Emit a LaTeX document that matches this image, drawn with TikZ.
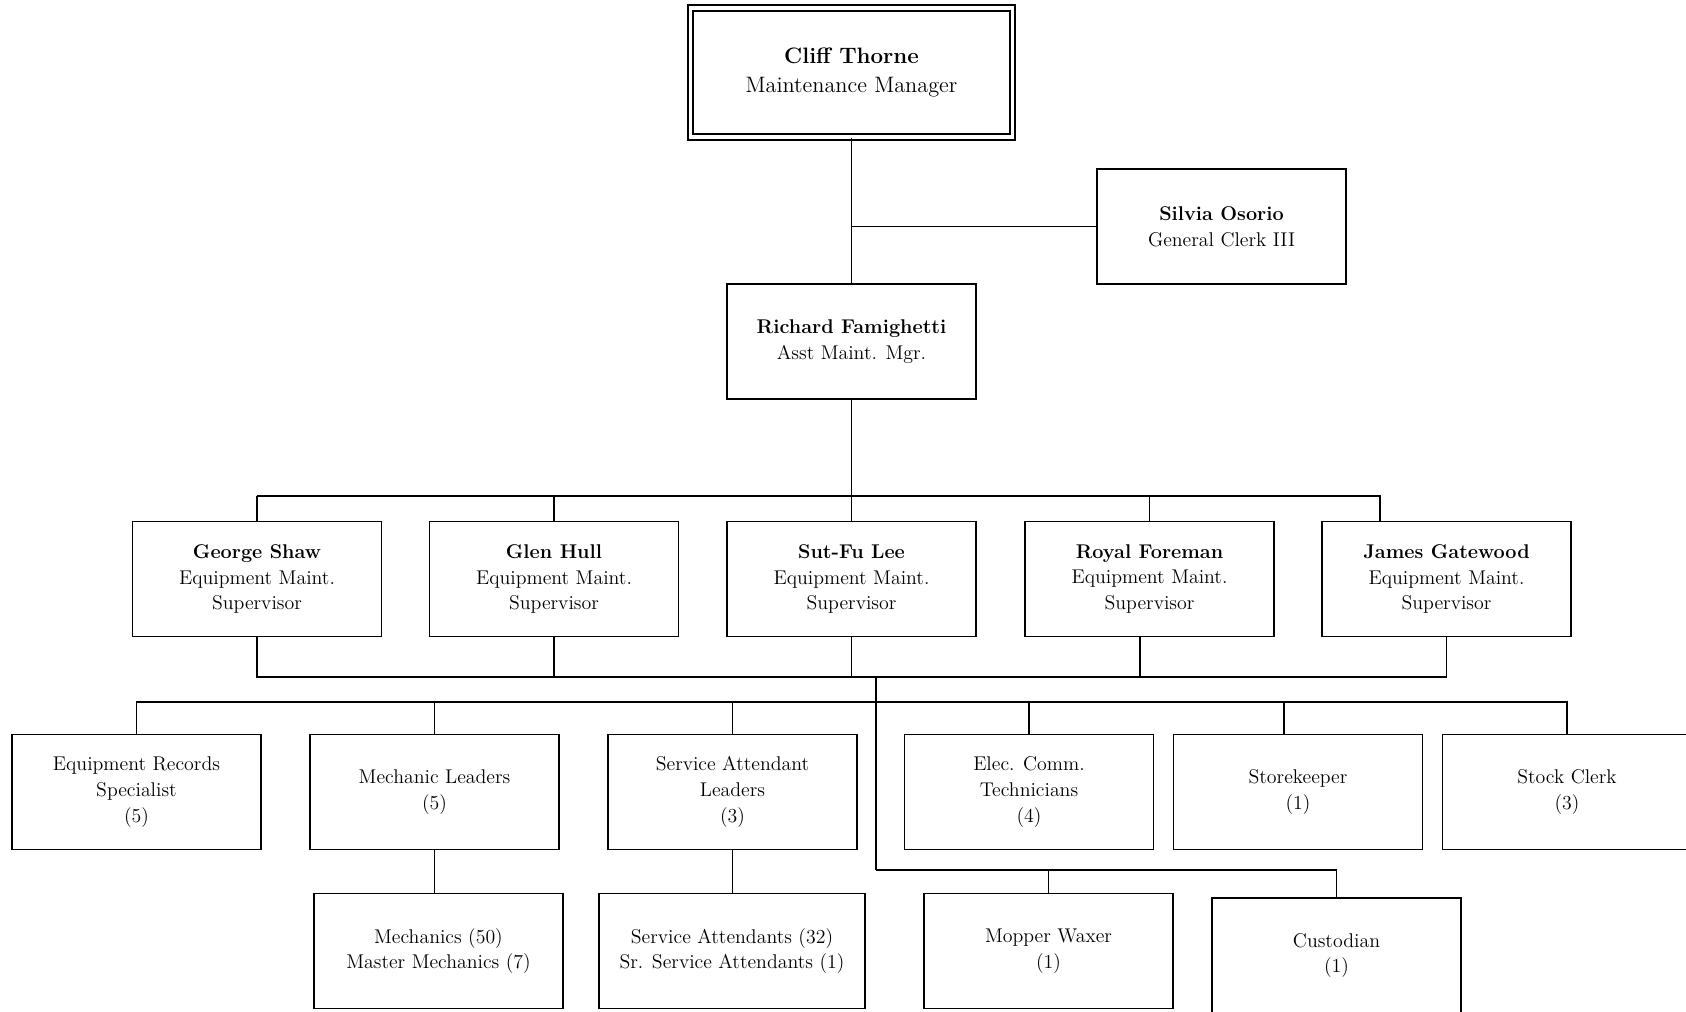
\documentclass[tikz,border=0pt]{standalone}
\usepackage{tikz}
\usetikzlibrary{calc}

\begin{document}
\begin{tikzpicture}[line width=1pt,
  box/.style={draw,minimum width=4.98cm,minimum height=2.3cm,align=center,inner sep=2pt,font=\fontsize{11.3}{14.7}\selectfont},
  topbox/.style={draw,double,double distance=2.2pt,minimum width=6.44cm,minimum height=2.58cm,align=center,font=\fontsize{12.7}{16.5}\selectfont}]
\useasboundingbox (0,0) rectangle (33.72,-20.22);
\node[topbox] (boss) at (17.03,-1.45) {\textbf{Cliff Thorne}\\Maintenance Manager};
\node[box] (clerk) at (24.43,-4.53) {\textbf{Silvia Osorio}\\General Clerk III};
\node[box] (asst) at (17.03,-6.83) {\textbf{Richard Famighetti}\\Asst Maint. Mgr.};
\node[box] (shaw) at (5.14,-11.58) {\textbf{George Shaw}\\Equipment Maint.\\Supervisor};
\node[box] (hull) at (11.08,-11.58) {\textbf{Glen Hull}\\Equipment Maint.\\Supervisor};
\node[box] (lee) at (17.03,-11.58) {\textbf{Sut-Fu Lee}\\Equipment Maint.\\Supervisor};
\node[box] (foreman) at (22.99,-11.58) {\textbf{Royal Foreman}\\Equipment Maint.\\Supervisor};
\node[box] (gatewood) at (28.93,-11.58) {\textbf{James Gatewood}\\Equipment Maint.\\Supervisor};
\node[box] (records) at (2.73,-15.84) {Equipment Records\\Specialist\\(5)};
\node[box] (mechlead) at (8.69,-15.84) {Mechanic Leaders\\(5)};
\node[box] (servlead) at (14.65,-15.84) {Service Attendant\\Leaders\\(3)};
\node[box] (elec) at (20.58,-15.84) {Elec. Comm.\\Technicians\\(4)};
\node[box] (store) at (25.96,-15.84) {Storekeeper\\(1)};
\node[box] (stock) at (31.34,-15.84) {Stock Clerk\\(3)};
\node[box] (mech) at (8.77,-19.02) {Mechanics (50)\\Master Mechanics (7)};
\node[box,minimum width=5.32cm] (servatt) at (14.64,-19.02) {Service Attendants (32)\\Sr. Service Attendants (1)};
\node[box] (mopper) at (20.97,-19.02) {Mopper Waxer\\(1)};
\node[box] (custodian) at (26.73,-19.11) {Custodian\\(1)};

\coordinate (bus1) at (0,-9.92);
\coordinate (bus2) at (0,-13.54);
\coordinate (bus3) at (0,-14.04);
\coordinate (gdrop) at (27.6,-9.92);
\coordinate (split) at (17.52,-13.54);
\coordinate (bus4) at (17.52,-17.4);

\draw (boss) -- (asst);
\draw (clerk.west) -- (clerk.west -| boss.south);
\draw (asst.south) -- (asst.south |- bus1);
\draw (shaw.north |- bus1) -- (gdrop) -- (gdrop |- gatewood.north);
\foreach \n in {shaw,hull,lee,foreman}
  \draw (\n.north) -- (\n.north |- bus1);
\draw (shaw.south) |- (gatewood.south |- bus2) -- (gatewood.south);
\foreach \n in {hull,lee}
  \draw (\n.south) -- (\n.south |- bus2);
\draw ([xshift=-0.19cm]foreman.south) -- ([xshift=-0.19cm]foreman.south |- bus2);
\draw (split) -- (bus4);
\draw (records.north) |- (stock.north |- bus3) -- (stock.north);
\foreach \n in {mechlead,servlead,elec}
  \draw (\n.north) -- (\n.north |- bus3);
\draw ([xshift=-0.28cm]store.north) -- ([xshift=-0.28cm]store.north |- bus3);
\draw (mechlead.south) -- (mechlead.south |- mech.north);
\draw (servlead.south) -- (servlead.south |- servatt.north);
\draw (bus4) -| (custodian.north);
\draw (mopper.north) -- (mopper.north |- bus4);
\end{tikzpicture}
\end{document}
